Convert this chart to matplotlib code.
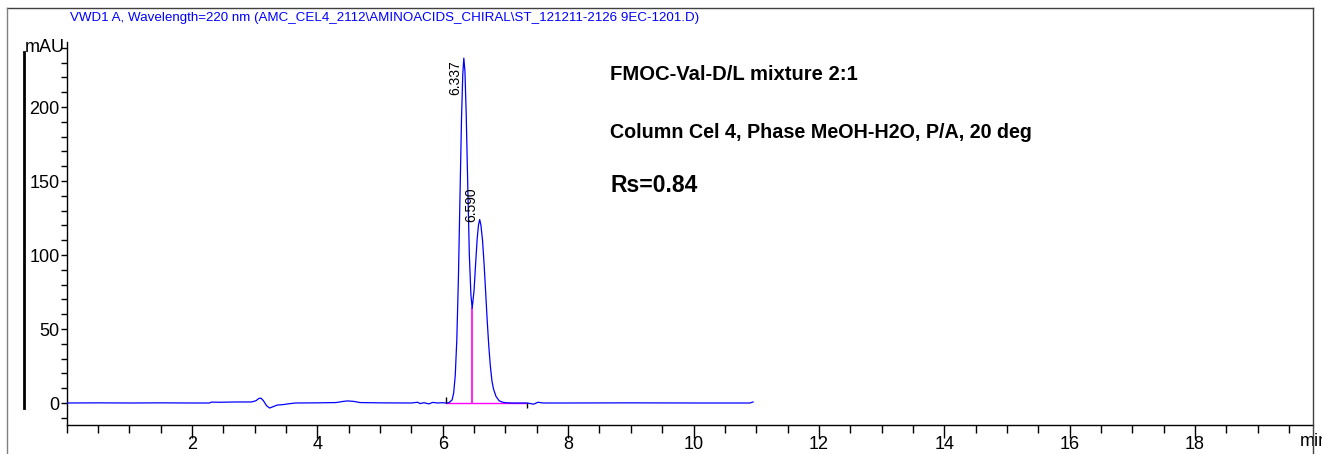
import numpy as np
import matplotlib
matplotlib.use("Agg")
import matplotlib.pyplot as plt
from matplotlib import font_manager
from matplotlib.lines import Line2D

# chromatogram trace, VWD1 A (time in min, signal in mAU)
time_min = [0.00, 0.50, 1.00, 1.50, 2.00, 2.28, 2.31, 2.45, 2.70, 2.95,
            3.02, 3.07, 3.10, 3.14, 3.19, 3.24, 3.30, 3.36, 3.45, 3.55,
            3.65, 4.00, 4.30, 4.40, 4.48, 4.58, 4.68, 5.00, 5.50, 5.60,
            5.64, 5.70, 5.78, 5.84, 5.92, 6.00, 6.05, 6.10, 6.15, 6.175,
            6.20, 6.225, 6.25, 6.275, 6.30, 6.32, 6.337, 6.355, 6.375, 6.40,
            6.425, 6.45, 6.47, 6.50, 6.525, 6.55, 6.57, 6.59, 6.61, 6.635,
            6.66, 6.685, 6.71, 6.735, 6.76, 6.785, 6.81, 6.85, 6.90, 6.95,
            7.00, 7.10, 7.35, 7.45, 7.52, 7.60, 8.00, 9.00, 10.00, 10.90,
            10.95]
signal_mau = [0.0, 0.1, 0.0, 0.1, 0.0, 0.0, 0.6, 0.5, 0.7, 0.7,
              1.5, 3.1, 3.3, 1.6, -1.8, -3.4, -2.4, -1.4, -1.1, -0.5,
              0.0, 0.1, 0.3, 1.0, 1.4, 1.1, 0.3, 0.1, 0.0, 0.5,
              -0.4, 0.2, -0.6, 0.4, 0.0, 0.2, 0.0, 0.2, 2.1, 6.8,
              18.5, 42.6, 83.3, 137.8, 192.2, 222.0, 233.0, 224.0, 195.0, 146.0,
              100.0, 73.0, 64.0, 76.0, 94.0, 111.0, 120.0, 124.0, 120.0, 110.0,
              94.0, 75.0, 55.5, 38.5, 25.0, 15.0, 9.5, 4.5, 1.5, 0.6,
              0.2, 0.0, 0.0, -0.8, 0.5, 0.0, 0.0, 0.1, 0.0, 0.0,
              0.7]

# integration events
peak_rt = [6.337, 6.590]
peak_labels = ["6.337", "6.590"]
baseline_start = 6.05
baseline_end = 7.35
valley_rt = 6.47

header = r"VWD1 A, Wavelength=220 nm (AMC_CEL4_2112\AMINOACIDS_CHIRAL\ST_121211-2126 9EC-1201.D)"
notes = ["FMOC-Val-D/L mixture 2:1",
         "Column Cel 4, Phase MeOH-H2O, P/A, 20 deg",
         "Rs=0.84"]

names = {f.name for f in font_manager.fontManager.ttflist}
narrow = "Liberation Sans Narrow" if "Liberation Sans Narrow" in names else "Liberation Sans"
plt.rcParams["font.family"] = ["Liberation Sans", "DejaVu Sans"]

W, H = 1322, 454
fig = plt.figure(figsize=(W / 100, H / 100), dpi=100)
ax = fig.add_axes([66.5 / W, (H - 425) / H, (1313 - 66.5) / W, (425 - 42) / H])

t = np.array(time_min)
s = np.array(signal_mau)
ax.plot(t, s, color="#0000ff", lw=0.9, zorder=3)

# baseline and drop line
valley = np.interp(valley_rt, t, s)
ax.plot([baseline_start, baseline_end], [0, 0], color="#ff00ff", lw=1.0, zorder=2)
ax.plot([valley_rt, valley_rt], [0, valley], color="#ff00ff", lw=1.2, zorder=2)
ax.vlines(baseline_start, 0, 4, color="black", lw=1.0, zorder=4)
ax.vlines(baseline_end, -3.5, 0, color="black", lw=1.0, zorder=4)

# retention time labels
offsets = [(-0.14, -13), (-0.14, 10)]
for rt, lab, (dx, dy) in zip(peak_rt, peak_labels, offsets):
    h = np.interp(rt, t, s)
    ax.text(rt + dx, h + dy, lab, rotation=90, ha="center", va="center",
            fontsize=10, family=narrow, color="black")

ax.set_xlim(0, (1313 - 66.5) / 62.7)
ax.set_ylim((403 - 425) / 1.48, (403 - 42) / 1.48)
ax.set_xticks(np.arange(2, 19, 2))
ax.set_xticks(np.arange(0, 20, 0.5), minor=True)
ax.set_yticks(np.arange(0, 201, 50))
ax.set_yticks(np.arange(-10, 241, 10), minor=True)
ax.tick_params(axis="x", which="major", length=9, width=1, labelsize=13, pad=-1)
ax.tick_params(axis="x", which="minor", length=6, width=1)
ax.tick_params(axis="y", which="both", length=4, width=1, labelsize=13, pad=1)
for sp in ["top", "right"]:
    ax.spines[sp].set_visible(False)
for sp in ["left", "bottom"]:
    ax.spines[sp].set_linewidth(1.0)

ax.text(19.67, -0.022, "min", transform=ax.get_xaxis_transform(),
        ha="left", va="top", fontsize=13)
fig.text(65 / W, 1 - 48 / H, "mAU", ha="right", va="center", fontsize=13)

# frame and left bar
def px_line(x0, y0, x1, y1, **kw):
    fig.add_artist(Line2D([x0 / W, x1 / W], [1 - y0 / H, 1 - y1 / H],
                          transform=fig.transFigure, **kw))

px_line(7, 7.5, 1313, 7.5, color="#404040", lw=1.0)
px_line(7, 7.5, 7, H, color="#808080", lw=1.0)
px_line(1313, 7.5, 1313, H, color="#404040", lw=1.0)
px_line(24, 52, 24, 408, color="black", lw=2.0)

renderer = fig.canvas.get_renderer()

def fit(txt, width_px):
    w = txt.get_window_extent(renderer).width
    txt.set_fontsize(txt.get_fontsize() * width_px / w)

head = fig.text(70 / W, 1 - 18 / H, header, ha="left", va="center",
                color="#0000ff", fontsize=12, family=narrow)
fit(head, 627)

note_y = [75, 133, 185]
note_w = [248, 422, 87]
for txt, y, w in zip(notes, note_y, note_w):
    n = fig.text(610 / W, 1 - y / H, txt, ha="left", va="center",
                 fontsize=20, family=narrow, weight="bold", color="black")
    fit(n, w)

fig.savefig("out.png", dpi=100)
